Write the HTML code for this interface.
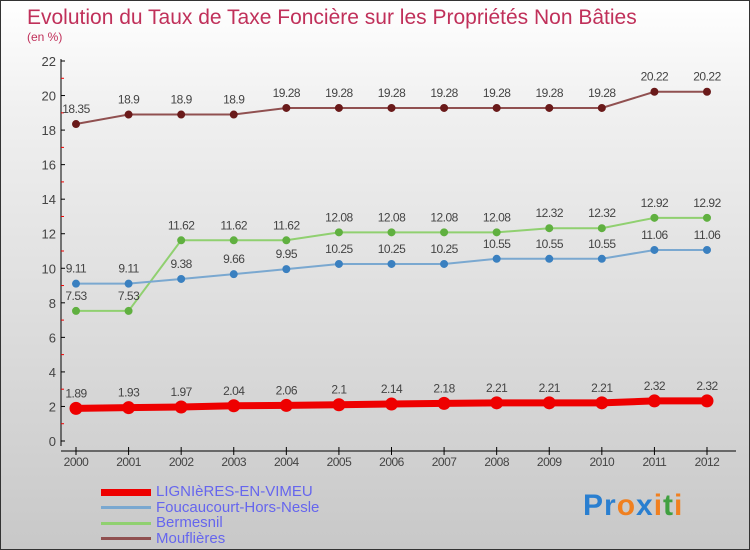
<!DOCTYPE html>
<html><head><meta charset="utf-8"><style>
body{margin:0}
#c{width:748px;height:548px;border:1px solid #333;background:linear-gradient(#fff,#f0f0f0 20%,#c8c8c8);position:relative;font-family:"Liberation Sans",sans-serif;overflow:hidden}
svg{position:absolute;left:0;top:0}
</style></head><body>
<div id="c">
<svg id="s" width="750" height="550">
<text x="26" y="23" font-size="21" fill="#c0305a">Evolution du Taux de Taxe Foncière sur les Propriétés Non Bâties</text>
<text x="26" y="40" font-size="12" fill="#c0305a">(en %)</text>
</svg>
<div style="position:absolute;left:100px;top:483px;font-size:15px;color:#6666ee;line-height:15.5px">
<div><span style="display:inline-block;width:50px;height:7px;background:#e00;margin-right:5px;vertical-align:middle"></span>LIGNIèRES-EN-VIMEU</div>
<div><span style="display:inline-block;width:50px;height:3px;background:#7aa8d0;margin-right:5px;vertical-align:middle"></span>Foucaucourt-Hors-Nesle</div>
<div><span style="display:inline-block;width:50px;height:3px;background:#90d070;margin-right:5px;vertical-align:middle"></span>Bermesnil</div>
<div><span style="display:inline-block;width:50px;height:3px;background:#905050;margin-right:5px;vertical-align:middle"></span>Mouflières</div>
</div>
<div style="position:absolute;left:582px;top:488px;font-size:30px;font-weight:bold;letter-spacing:1px"><span style="color:#2a7fd0">Pr</span><span style="color:#f08020">o</span><span style="color:#2a7fd0">x</span><span style="color:#f08020">i</span><span style="color:#40a040">t</span><span style="color:#f08020">i</span></div>
</div>
<script>
const years=[2000,2001,2002,2003,2004,2005,2006,2007,2008,2009,2010,2011,2012];
const yTicks=[0,2,4,6,8,10,12,14,16,18,20,22];
const lignieres=[1.89,1.93,1.97,2.04,2.06,2.1,2.14,2.18,2.21,2.21,2.21,2.32,2.32];
const foucaucourt=[9.11,9.11,9.38,9.66,9.95,10.25,10.25,10.25,10.55,10.55,10.55,11.06,11.06];
const bermesnil=[7.53,7.53,11.62,11.62,11.62,12.08,12.08,12.08,12.08,12.32,12.32,12.92,12.92];
const mouflieres=[18.35,18.9,18.9,18.9,19.28,19.28,19.28,19.28,19.28,19.28,19.28,20.22,20.22];
const svg=document.getElementById('s'),NS='http://www.w3.org/2000/svg';
const xS=i=>75+i*(706-75)/(years.length-1);
const yS=v=>440-v*(440-60)/22;
function mk(t,a,p){const e=document.createElementNS(NS,t);for(const k in a)e.setAttribute(k,a[k]);(p||svg).appendChild(e);return e;}
let e=mk('line',{x1:60,y1:58,x2:60,y2:445,stroke:'#000'});


e=mk('line',{x1:60,y1:450,x2:735,y2:450,stroke:'#000'});


yTicks.forEach(v=>{
 mk('line',{x1:60,y1:yS(v),x2:64,y2:yS(v),stroke:'#000'});
 if(v<22)mk('line',{x1:60,y1:yS(v+1),x2:63,y2:yS(v+1),stroke:'#e00'});
 const t=mk('text',{x:55,y:yS(v)+5,'font-size':13,fill:'#444','text-anchor':'end'});t.textContent=v;
 
 
});
years.forEach((y,i)=>{
 mk('line',{x1:xS(i),y1:446,x2:xS(i),y2:454,stroke:'#000'});
 const t=mk('text',{x:xS(i),y:465,'font-size':12,fill:'#444','text-anchor':'middle','letter-spacing':'-0.5'});t.textContent=y;
 
 
});
function series(d,col,dot,w,r,name){
 const g=mk('g',{});
 
 
 mk('polyline',{points:d.map((v,i)=>xS(i)+','+yS(v)).join(' '),fill:'none',stroke:col,'stroke-width':w},g);
 d.forEach((v,i)=>{
  const c=mk('circle',{cx:xS(i),cy:yS(v),r:r,fill:dot,stroke:dot},g);
  
  
  const t=mk('text',{x:xS(i),y:yS(v)-11,'font-size':12,fill:'#444','text-anchor':'middle','letter-spacing':'-0.5'},g);t.textContent=v;
 });
}
series(mouflieres,'#905050','#6a1a1a',2,3.5,'series-mouflieres');
series(bermesnil,'#90d070','#60b040',2,3.5,'series-bermesnil');
series(foucaucourt,'#7aa8d0','#3a80c0',2,3.5,'series-foucaucourt');
series(lignieres,'#ee0000','#ee0000',7,6,'series-lignieres');
</script>
</body></html>
